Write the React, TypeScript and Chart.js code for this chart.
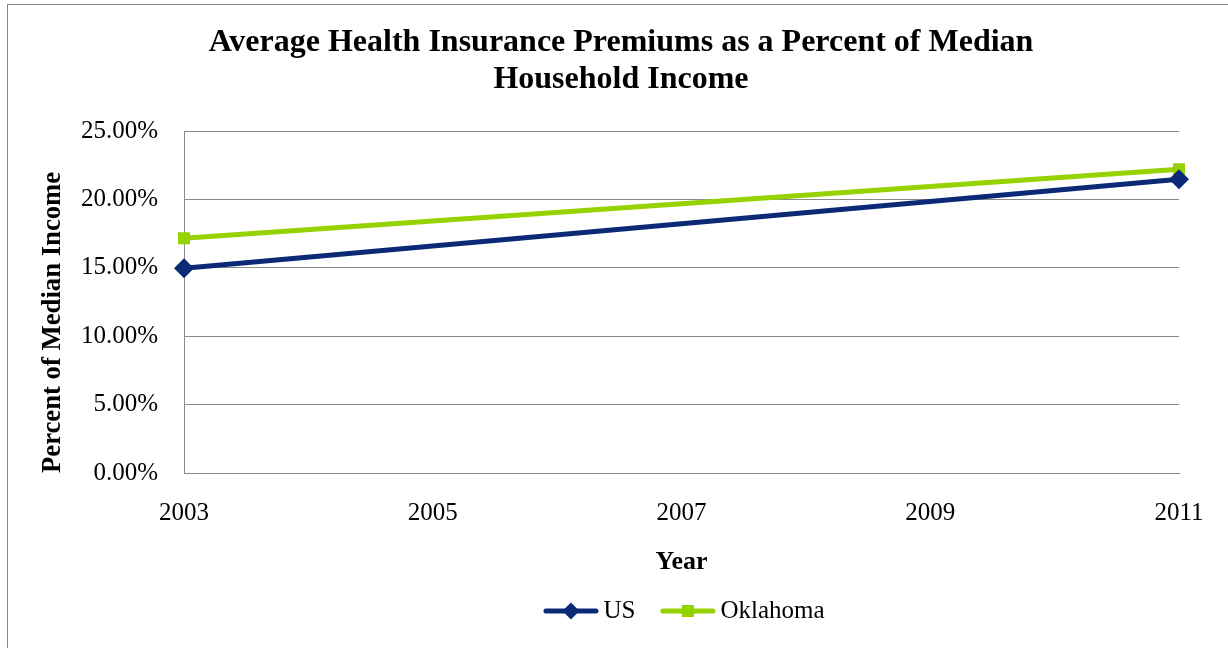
import { useEffect, useRef } from "react";
import { Chart, registerables } from "chart.js";

Chart.register(...registerables);

// ---- data ----
const years = [2003, 2011];
const usValues = [14.96, 21.47];
const oklahomaValues = [17.16, 22.2];
const seriesNames = ["US", "Oklahoma"];
const xTickStep = 2;
const yTickStep = 5;
const yMin = 0;
const yMax = 25;
const titleLines = [
  "Average Health Insurance Premiums as a Percent of Median",
  "Household Income",
];
const xAxisTitle = "Year";
const yAxisTitle = "Percent of Median Income";

// ---- styles ----
const US_COLOR = "#0A2A76";
const OK_COLOR = "#95D200";
const GRID = "#8A8A8A";
const SERIF = "'Liberation Serif', 'Times New Roman', serif";

const legendPlugin = {
  id: "lineLegend",
  afterDraw(chart: any) {
    const ctx = chart.ctx as CanvasRenderingContext2D;
    ctx.save();
    ctx.font = `25px ${SERIF}`;
    const lineLen = 55;
    const gapText = 5;
    const gapItem = 25;
    const items = chart.data.datasets.map((ds: any) => ({
      label: ds.label,
      color: ds.borderColor,
      style: ds.pointStyle,
    }));
    const widths = items.map(
      (it: any) => lineLen + gapText + ctx.measureText(it.label).width
    );
    const total =
      widths.reduce((a: number, b: number) => a + b, 0) +
      gapItem * (items.length - 1);
    let x = 684 - total / 2;
    const y = 611;
    items.forEach((it: any, i: number) => {
      ctx.strokeStyle = it.color;
      ctx.lineWidth = 5;
      ctx.lineCap = "round";
      ctx.beginPath();
      ctx.moveTo(x + 2.5, y);
      ctx.lineTo(x + lineLen - 2.5, y);
      ctx.stroke();
      const cx = x + lineLen / 2;
      ctx.fillStyle = it.color;
      ctx.beginPath();
      if (it.style === "rectRot") {
        const r = 8.5;
        ctx.moveTo(cx, y - r);
        ctx.lineTo(cx + r, y);
        ctx.lineTo(cx, y + r);
        ctx.lineTo(cx - r, y);
        ctx.closePath();
      } else {
        const h = 6;
        ctx.rect(cx - h, y - h, 2 * h, 2 * h);
      }
      ctx.fill();
      ctx.fillStyle = "#000";
      ctx.textBaseline = "middle";
      ctx.textAlign = "left";
      ctx.fillText(it.label, x + lineLen + gapText, y);
      x += widths[i] + gapItem;
    });
    ctx.restore();
  },
};

export default function App() {
  const canvasRef = useRef<HTMLCanvasElement | null>(null);

  useEffect(() => {
    if (!canvasRef.current) return;
    Chart.defaults.font.family = SERIF;
    Chart.defaults.color = "#000";
    const chart = new Chart(canvasRef.current, {
      type: "line",
      data: {
        datasets: [
          {
            label: seriesNames[0],
            data: years.map((x, i) => ({ x, y: usValues[i] })),
            borderColor: US_COLOR,
            backgroundColor: US_COLOR,
            borderWidth: 5,
            pointStyle: "rectRot",
            pointRadius: 10,
            pointBorderWidth: 0,
            pointHoverRadius: 10,
            clip: false,
          },
          {
            label: seriesNames[1],
            data: years.map((x, i) => ({ x, y: oklahomaValues[i] })),
            borderColor: OK_COLOR,
            backgroundColor: OK_COLOR,
            borderWidth: 5,
            pointStyle: "rect",
            pointRadius: 8.5,
            pointBorderWidth: 0,
            pointHoverRadius: 8.5,
            clip: false,
          },
        ],
      },
      options: {
        responsive: false,
        animation: false,
        events: [],
        layout: { padding: { left: 63, right: 49, top: 0, bottom: 70.4 } },
        plugins: {
          legend: { display: false },
          tooltip: { enabled: false },
          title: {
            display: true,
            text: titleLines,
            color: "#000",
            font: { family: SERIF, size: 32, weight: "bold", lineHeight: 37 / 32 },
            padding: { top: 24.5, bottom: 32.5 },
          },
        },
        scales: {
          x: {
            type: "linear",
            min: years[0],
            max: years[years.length - 1],
            grid: { display: false },
            border: { display: true, color: GRID, width: 1 },
            ticks: {
              stepSize: xTickStep,
              padding: 17,
              font: { family: SERIF, size: 25 },
              color: "#000",
              callback: (v: any) => String(v),
              maxRotation: 0,
            },
            title: {
              display: true,
              text: xAxisTitle,
              color: "#000",
              font: { family: SERIF, size: 26, weight: "bold" },
              padding: { top: 0, bottom: 0 },
            },
            afterFit: (scale: any) => {
              scale.height = 104.6;
            },
          },
          y: {
            min: yMin,
            max: yMax,
            grid: { color: GRID, lineWidth: 1, drawTicks: false },
            border: { display: true, color: GRID, width: 1 },
            ticks: {
              stepSize: yTickStep,
              padding: 26,
              font: { family: SERIF, size: 25 },
              color: "#000",
              callback: (v: any) => Number(v).toFixed(2) + "%",
            },
            title: {
              display: true,
              text: yAxisTitle,
              align: "start",
              color: "#000",
              font: { family: SERIF, size: 26.7, weight: "bold" },
              padding: { top: -25.8, bottom: 0 },
            },
            afterFit: (scale: any) => {
              scale.width = 121;
            },
          },
        },
      },
      plugins: [legendPlugin],
    } as any);
    return () => chart.destroy();
  }, []);

  return (
    <div
      style={{
        position: "fixed",
        left: 0,
        top: 0,
        width: 1228,
        height: 648,
        overflow: "hidden",
        background: "#fff",
      }}
    >
      <div
        style={{
          position: "absolute",
          left: 7,
          top: 4,
          width: 1300,
          height: 700,
          border: "1px solid #888",
        }}
      />
      <canvas
        ref={canvasRef}
        width={1228}
        height={648}
        style={{ position: "absolute", left: 0, top: 0 }}
      />
    </div>
  );
}
